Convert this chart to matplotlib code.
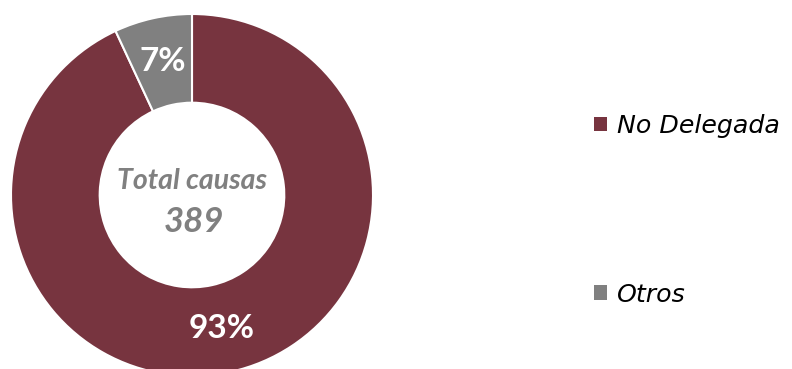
import matplotlib
matplotlib.use("Agg")
import matplotlib.pyplot as plt

categories = ["No Delegada", "Otros"]
counts = [362, 27]
colors = ["#77343F", "#808080"]
total_label = "Total causas"
total_value = sum(counts)

W, H = 792, 369
fig = plt.figure(figsize=(W / 100, H / 100), dpi=100)
cx, cy, R = 192, 195, 181
ax = fig.add_axes([(cx - R) / W, (H - cy - R) / H, 2 * R / W, 2 * R / H])

wedges, texts, autotexts = ax.pie(
    counts, colors=colors, startangle=90, counterclock=False,
    radius=1.0, autopct='%.0f%%', pctdistance=0.755,
    wedgeprops=dict(width=0.49, edgecolor='white', linewidth=1.5),
    textprops=dict(color='white', fontsize=24, fontweight='bold', family='Lato'))
ax.set_xlim(-1, 1)
ax.set_ylim(-1, 1)
ax.set_aspect('equal')
ax.axis('off')

ax.text(0, 0.077, total_label, ha='center', va='center', color='#808080',
        fontsize=20.5, fontweight='bold', fontstyle='italic', family='Lato')
ax.text(0.01, -0.149, str(total_value), ha='center', va='center', color='#808080',
        fontsize=25, fontweight='bold', fontstyle='italic', family='Lato')

leg = fig.legend(wedges, categories, loc='upper left',
                 bbox_to_anchor=(594 / W, 1 - 114 / H), frameon=False,
                 prop=dict(family='DejaVu Sans', style='oblique', size=18.2),
                 handlelength=0.5, handleheight=0.5, handletextpad=0.4,
                 labelspacing=5.72, borderaxespad=0, borderpad=0)
for h in leg.legend_handles:
    h.set_edgecolor('none')

fig.savefig("out.png", dpi=100)
